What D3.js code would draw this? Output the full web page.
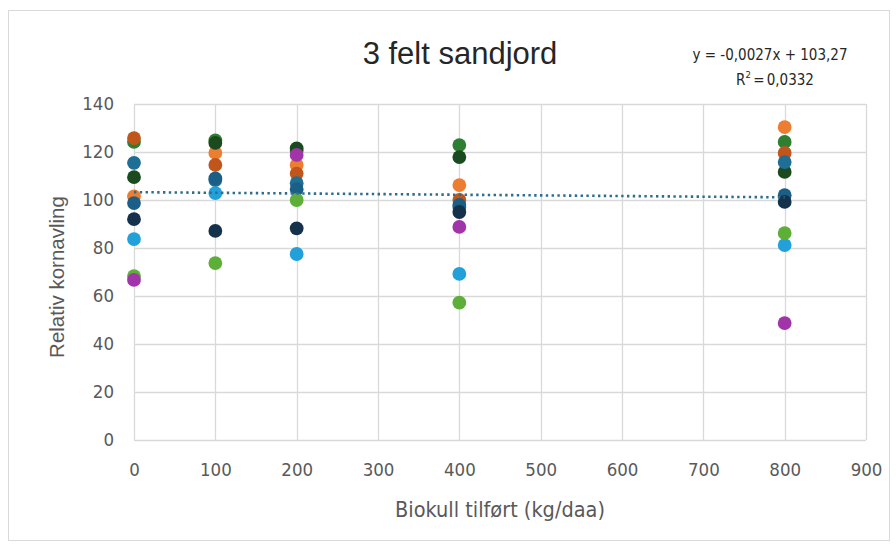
<!DOCTYPE html>
<html><head><meta charset="utf-8">
<script src="https://cdn.jsdelivr.net/npm/d3@7"></script>
<style>
html,body{margin:0;padding:0;background:#fff;}
svg{display:block;}
</style></head>
<body>
<svg id="chart" width="896" height="545"></svg>
<script>
// ---- data ----
const doses = [0, 100, 200, 400, 800];
const seriesNames = ["s1","s3","s2","s4","s5","s6","s7","s8","s9","s10"];
const seriesColors = ["#ED7D31","#2F7F33","#C0561B","#1B4A1E","#1F6E96","#1C5F86","#15324D","#22A0DA","#5DAF37","#A034A8"];
const s1  = [101.5, 119.6, 114.6, 106.2, 130.4];
const s3  = [124.2, 124.8, 120.5, 122.9, 124.2];
const s2  = [125.8, 114.6, 111.0, 100.0, 119.6];
const s4  = [109.5, 123.8, 121.5, 117.9, 111.7];
const s5  = [115.5, 108.3, 107.0, 97.1, 115.8];
const s6  = [98.7, 109.0, 104.5, 98.0, 102.0];
const s7  = [92.0, 87.1, 88.2, 95.0, 99.2];
const s8  = [83.7, 102.9, 77.5, 69.2, 81.2];
const s9  = [68.3, 73.7, 100.0, 57.2, 86.2];
const s10 = [66.7, null, 118.8, 88.8, 48.7];
const seriesValues = [s1,s3,s2,s4,s5,s6,s7,s8,s9,s10];
const xTicks = [0,100,200,300,400,500,600,700,800,900];
const yTicks = [0,20,40,60,80,100,120,140];
const trendSlope = -0.0027, trendIntercept = 103.27;
const trendRange = [0, 800];
const titleText = "3 felt sandjord";
const eqLine1 = "y = -0,0027x + 103,27";
const xTitle = "Biokull tilført (kg/daa)";
const yTitle = "Relativ kornavling";

// ---- layout ----
const svg = d3.select("#chart");
const plot = {left:134, right:866, top:104, bottom:440};
const x = d3.scaleLinear().domain([0,900]).range([plot.left, plot.right]);
const y = d3.scaleLinear().domain([0,140]).range([plot.bottom, plot.top]);
const narrow = "'DejaVu Sans Condensed','Liberation Sans',sans-serif";
const txtColor = "#595959";

// outer border
svg.append("rect").attr("x",8.5).attr("y",10.5).attr("width",881).attr("height",530)
  .attr("fill","#fff").attr("stroke","#d9d9d9").attr("stroke-width",1);

// gridlines
const g = svg.append("g");
g.selectAll("line.h").data(yTicks).join("line")
  .attr("x1",plot.left).attr("x2",plot.right)
  .attr("y1",d=>Math.round(y(d))+0.5).attr("y2",d=>Math.round(y(d))+0.5)
  .attr("stroke","#d9d9d9").attr("stroke-width",1.3);
g.selectAll("line.v").data(xTicks).join("line")
  .attr("y1",plot.top).attr("y2",plot.bottom)
  .attr("x1",d=>Math.round(x(d))+0.5).attr("x2",d=>Math.round(x(d))+0.5)
  .attr("stroke","#d9d9d9").attr("stroke-width",1.3);

// axes tick labels via d3 axis
const xAxis = svg.append("g").attr("transform",`translate(0,${plot.bottom})`)
  .call(d3.axisBottom(x).tickValues(xTicks).tickSize(0).tickPadding(23));
const yAxis = svg.append("g").attr("transform",`translate(${plot.left},0)`)
  .call(d3.axisLeft(y).tickValues(yTicks).tickSize(0).tickPadding(20));
[xAxis,yAxis].forEach(a=>{
  a.select(".domain").remove();
  a.selectAll("text").attr("font-family",narrow).attr("font-size",18.5).attr("fill",txtColor);
});
xAxis.selectAll("text").attr("dy","0.71em");

// points
const pts = [];
seriesValues.forEach((vals,si)=>{
  vals.forEach((v,i)=>{ if(v!==null) pts.push({x:doses[i], y:v, c:seriesColors[si]}); });
});
svg.append("g").selectAll("circle").data(pts).join("circle")
  .attr("cx",d=>x(d.x)).attr("cy",d=>y(d.y)).attr("r",6.9).attr("fill",d=>d.c);

// trendline
const line = d3.line().x(d=>x(d)).y(d=>y(trendSlope*d+trendIntercept));
svg.append("path").datum(trendRange).attr("d",line)
  .attr("fill","none").attr("stroke","#2b6e8f").attr("stroke-width",2.6)
  .attr("stroke-dasharray","2.4 3.4");

// title
svg.append("text").attr("x",460).attr("y",64).attr("text-anchor","middle")
  .attr("font-family","'Liberation Sans',Arial,sans-serif").attr("font-size",31).attr("fill","#262626")
  .text(titleText);

// equation
const eq = svg.append("g").attr("font-family",narrow).attr("font-size",15).attr("fill","#262626");
eq.append("text").attr("x",770).attr("y",60).attr("text-anchor","middle").text(eqLine1);
const r2 = eq.append("text").attr("x",775).attr("y",85).attr("text-anchor","middle").attr("word-spacing",-2);
r2.append("tspan").text("R");
r2.append("tspan").attr("font-size",9.5).attr("dy",-7).text("2");
r2.append("tspan").attr("dy",7).text(" = 0,0332");

// axis titles
svg.append("text").attr("x",500).attr("y",517).attr("text-anchor","middle")
  .attr("font-family",narrow).attr("font-size",21.5).attr("fill",txtColor).text(xTitle);
svg.append("text").attr("transform","translate(64,277) rotate(-90)").attr("text-anchor","middle")
  .attr("font-family","'Liberation Sans',Arial,sans-serif").attr("font-size",20.5).attr("fill",txtColor).text(yTitle);
</script>
</body></html>
